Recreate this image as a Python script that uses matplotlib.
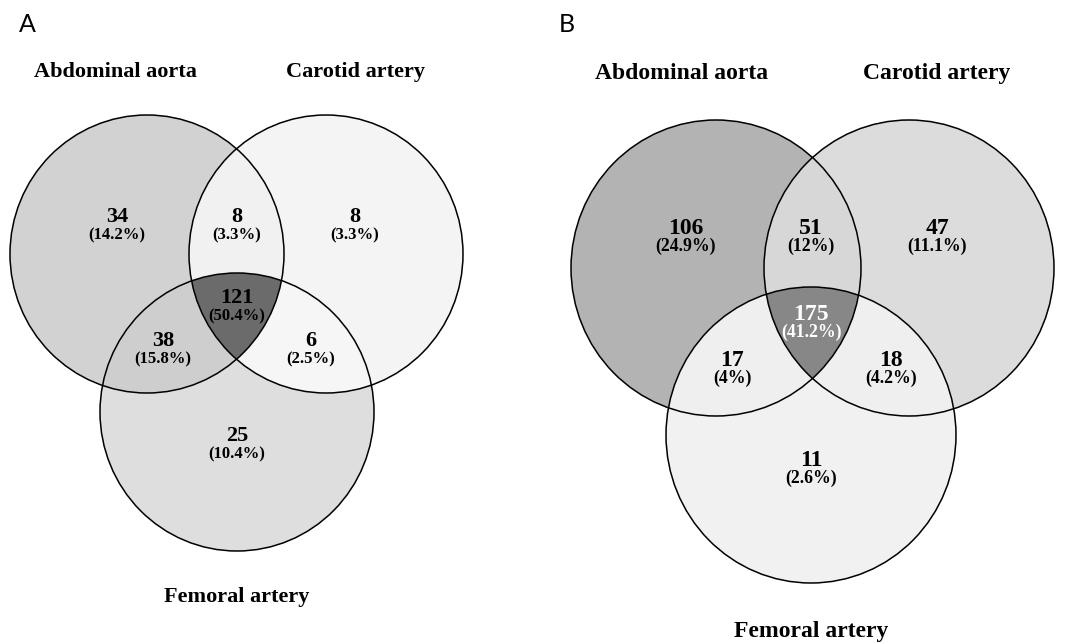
import matplotlib
matplotlib.use("Agg")
import matplotlib.pyplot as plt
from matplotlib.patches import Ellipse
import numpy as np

# region order: abd only, car only, fem only, abd&car, abd&fem, car&fem, all three
regions = ["abd", "car", "fem", "abd_car", "abd_fem", "car_fem", "all"]
set_names = ["Abdominal aorta", "Carotid artery", "Femoral artery"]

counts_a = [34, 8, 25, 8, 38, 6, 121]
pcts_a = ["14.2%", "3.3%", "10.4%", "3.3%", "15.8%", "2.5%", "50.4%"]
counts_b = [106, 47, 11, 51, 17, 18, 175]
pcts_b = ["24.9%", "11.1%", "2.6%", "12%", "4%", "4.2%", "41.2%"]

# region greys (per panel)
greys_a = ["#d3d3d3", "#f4f4f4", "#dedede", "#f2f2f2", "#cecece", "#f6f6f6", "#6c6c6c"]
greys_b = ["#b3b3b3", "#dcdcdc", "#f2f2f2", "#d8d8d8", "#efefef", "#efefef", "#878787"]

W, H = 1068, 644

# layout in pixel coords: circle centres (abd, car, fem) and radii (rx, ry)
panels = [
    dict(letter="A", letter_xy=(27, 24), centres=[(147, 254), (326, 254), (237, 412)],
         r=(137, 139), counts=counts_a, pcts=pcts_a, greys=greys_a, white_all=False,
         name_xy=[(115, 72), (356, 72), (237, 597)], fs=16, pfs=12,
         lab_xy=[(117, 217), (355, 217), (237, 436), (237, 217), (163, 341), (311, 341), (237, 298)]),
    dict(letter="B", letter_xy=(567, 24), centres=[(716, 268), (909, 268), (811, 435)],
         r=(145, 148), counts=counts_b, pcts=pcts_b, greys=greys_b, white_all=True,
         name_xy=[(682, 73), (937, 73), (811, 631)], fs=17, pfs=12.8,
         lab_xy=[(686, 228), (937, 228), (811, 460), (811, 228), (732, 360), (891, 360), (811, 314)]),
]

fig = plt.figure(figsize=(W / 100, H / 100), dpi=100)
ax = fig.add_axes([0, 0, 1, 1])
ax.set_xlim(0, W)
ax.set_ylim(H, 0)
ax.axis("off")

# raster of region fills at 2x resolution
step = 0.5
yy, xx = np.mgrid[0:H:step, 0:W:step]
xx = xx + step / 2
yy = yy + step / 2
img = np.ones(xx.shape + (3,))
code_to_idx = {1: 0, 2: 1, 4: 2, 3: 3, 5: 4, 6: 5, 7: 6}
for p in panels:
    rx, ry = p["r"]
    code = np.zeros(xx.shape, dtype=int)
    for k, (cx, cy) in enumerate(p["centres"]):
        inside = ((xx - cx) / rx) ** 2 + ((yy - cy) / ry) ** 2 <= 1
        code += inside * (1 << k)
    for c, idx in code_to_idx.items():
        img[code == c] = matplotlib.colors.to_rgb(p["greys"][idx])
ax.imshow(img, extent=(0, W, H, 0), interpolation="antialiased", zorder=1)

serif = "Liberation Serif"
for p in panels:
    rx, ry = p["r"]
    for cx, cy in p["centres"]:
        ax.add_patch(Ellipse((cx, cy), 2 * rx, 2 * ry, facecolor="none",
                             edgecolor="black", lw=1.1, zorder=3))
    ax.text(*p["letter_xy"], p["letter"], fontsize=18, family="Lato",
            ha="center", va="center", zorder=4)
    for name, (x, y) in zip(set_names, p["name_xy"]):
        ax.text(x, y, name, fontsize=p["fs"], family=serif, weight="bold",
                ha="center", va="center", zorder=4)
    for i, (x, y) in enumerate(p["lab_xy"]):
        col = "white" if (p["white_all"] and regions[i] == "all") else "black"
        ax.text(x, y, str(p["counts"][i]), fontsize=p["fs"], family=serif,
                weight="bold", ha="center", va="center", color=col, zorder=4)
        ax.text(x, y + 18, "(" + p["pcts"][i] + ")", fontsize=p["pfs"],
                family=serif, weight="bold", ha="center", va="center",
                color=col, zorder=4)

fig.savefig("out.png", dpi=100)
